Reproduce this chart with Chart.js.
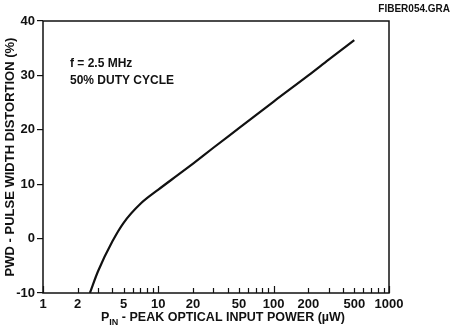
<!DOCTYPE html>
<html>
<head>
<meta charset="utf-8">
<script src="https://cdn.jsdelivr.net/npm/chart.js@4.4.1/dist/chart.umd.min.js"></script>
<style>
  html, body { margin: 0; padding: 0; background: #fff; }
  #wrap { width: 453px; height: 330px; position: relative; }
</style>
</head>
<body>
<div id="wrap"><canvas id="grafico" width="453" height="330"></canvas></div>
<script>
// Datos
const potenciaUW = [2.55, 3, 4, 5, 7, 10, 15, 20, 30, 50, 100, 200, 300, 500];
const pwdPct = [-10, -6.0, -0.5, 2.9, 6.4, 9.0, 11.8, 13.8, 16.7, 20.3, 25.2, 30.0, 32.9, 36.5];

const xEtiquetas = [1, 2, 5, 10, 20, 50, 100, 200, 500, 1000];
const xMarcas = [1, 2, 3, 4, 5, 6, 7, 8, 9,
  10, 20, 30, 40, 50, 60, 70, 80, 90,
  100, 200, 300, 400, 500, 600, 700, 800, 900, 1000];
const xMayores = [1, 10, 100, 1000];
const yMarcas = [-10, 0, 10, 20, 30, 40];

const FUENTE = "'Liberation Sans Narrow', 'Liberation Sans', Arial, sans-serif";

// Caja, marcas interiores y titulo del eje x con subindice
const extras = {
  id: "extras",
  afterDraw(chart) {
    const ctx = chart.ctx;
    const a = chart.chartArea;
    const sx = chart.scales.x;
    ctx.save();
    ctx.strokeStyle = "#111";
    ctx.lineWidth = 1.5;
    ctx.strokeRect(a.left, a.top, a.right - a.left, a.bottom - a.top);

    ctx.lineWidth = 1.2;
    xMarcas.forEach(v => {
      const px = Math.round(sx.getPixelForValue(v)) + 0.5;
      const largo = xMayores.includes(v) ? 7 : 5;
      ctx.beginPath();
      ctx.moveTo(px, a.bottom);
      ctx.lineTo(px, a.bottom - largo);
      ctx.stroke();
    });

    // titulo eje x
    ctx.fillStyle = "#111";
    ctx.textBaseline = "alphabetic";
    const grande = "bold 12.5px " + FUENTE;
    const chico = "bold 9px " + FUENTE;
    const resto = " - PEAK OPTICAL INPUT POWER (\u00b5W)";
    ctx.font = grande;
    const wP = ctx.measureText("P").width;
    const wR = ctx.measureText(resto).width;
    ctx.font = chico;
    const wIN = ctx.measureText("IN").width;
    const total = wP + wIN + wR;
    let x0 = 223 - total / 2;
    const base = 321;
    ctx.font = grande;
    ctx.fillText("P", x0, base);
    ctx.font = chico;
    ctx.fillText("IN", x0 + wP, base + 4);
    ctx.font = grande;
    ctx.fillText(resto, x0 + wP + wIN, base);

    // anotaciones
    ctx.font = "bold 12px " + FUENTE;
    ctx.fillText("f = 2.5 MHz", 70, 67);
    ctx.fillText("50% DUTY CYCLE", 70, 84);
    ctx.font = "bold 10px " + FUENTE;
    ctx.textAlign = "right";
    ctx.fillText("FIBER054.GRA", 450, 12);
    ctx.restore();
  }
};

const ctx = document.getElementById("grafico").getContext("2d");
new Chart(ctx, {
  type: "line",
  data: {
    datasets: [{
      data: potenciaUW.map((p, i) => ({ x: p, y: pwdPct[i] })),
      borderColor: "#111",
      borderWidth: 2.2,
      pointRadius: 0,
      fill: false,
      cubicInterpolationMode: "monotone"
    }]
  },
  options: {
    responsive: false,
    animation: false,
    devicePixelRatio: 1,
    layout: { padding: { left: 0, right: 64, top: 21, bottom: 0 } },
    plugins: {
      legend: { display: false },
      tooltip: { enabled: false }
    },
    scales: {
      x: {
        type: "logarithmic",
        min: 1,
        max: 1000,
        border: { display: false },
        grid: { display: true, drawOnChartArea: false, drawTicks: false },
        afterBuildTicks: scale => {
          scale.ticks = xMarcas.map(v => ({ value: v }));
        },
        afterFit: scale => { scale.height = 37; },
        ticks: {
          autoSkip: false,
          maxRotation: 0,
          padding: 4,
          color: "#111",
          font: { family: FUENTE, size: 13, weight: "bold" },
          callback: v => xEtiquetas.includes(v) ? String(v) : ""
        }
      },
      y: {
        min: -10,
        max: 40,
        border: { display: false },
        grid: { display: true, drawOnChartArea: false, drawTicks: true, tickLength: 6, color: "#111", lineWidth: 1.2 },
        afterBuildTicks: scale => {
          scale.ticks = yMarcas.map(v => ({ value: v }));
        },
        afterFit: scale => { scale.width = 43; },
        title: {
          display: true,
          text: "PWD - PULSE WIDTH DISTORTION (%)",
          color: "#111",
          font: { family: FUENTE, size: 13, weight: "bold" },
          padding: { top: 3, bottom: 0 }
        },
        ticks: {
          padding: 2,
          color: "#111",
          font: { family: FUENTE, size: 13, weight: "bold" }
        }
      }
    }
  },
  plugins: [extras]
});
</script>
</body>
</html>
